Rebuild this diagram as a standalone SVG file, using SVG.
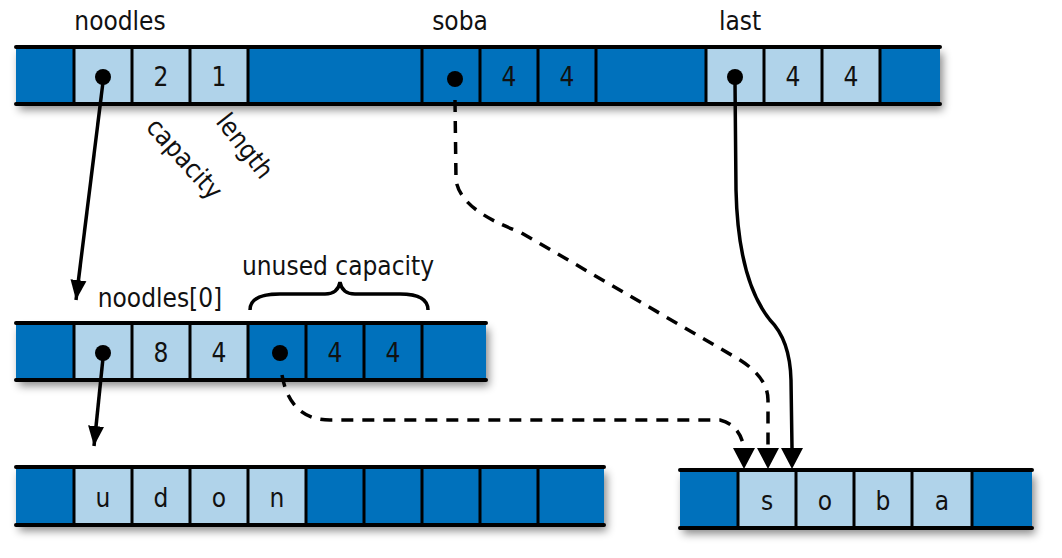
<svg xmlns="http://www.w3.org/2000/svg" width="1062" height="558" viewBox="0 0 1062 558">
<defs>
<filter id="sh" x="-5%" y="-20%" width="110%" height="160%"><feDropShadow dx="3" dy="6" stdDeviation="4" flood-color="#000" flood-opacity="0.45"/></filter>
<marker id="ar" markerWidth="8" markerHeight="8" refX="4" refY="7" orient="auto" markerUnits="userSpaceOnUse" viewBox="0 0 8 8"><path d="M0,0 L8,0 4,8z" fill="#000"/></marker>
<marker id="ah" viewBox="0 0 20 20" refX="20" refY="10" markerWidth="20" markerHeight="20" orient="auto" markerUnits="userSpaceOnUse"><path d="M0,2 L20,10 0,18z" fill="#000"/></marker>
</defs>
<style>
.d{fill:#0071bc}.l{fill:#b0d3ea}
.hl{stroke:#000;stroke-width:4;stroke-linecap:round}
.v{stroke:#000;stroke-width:3}
text{font-family:"Liberation Sans Narrow","DejaVu Sans Condensed","Liberation Sans",sans-serif;font-size:26px;fill:#111}
.c{text-anchor:middle}
.dot{fill:#000}
.w{fill:none;stroke:#000;stroke-width:3.5}
.ds{stroke-dasharray:12 9}
</style>
<g id="row1">
<g filter="url(#sh)"><rect class="d" x="16" y="47" width="924" height="57"/></g>
<rect class="l" x="74" y="47" width="174" height="57"/>
<rect class="l" x="706" y="47" width="174" height="57"/>
<path class="v" d="M74 47V104M132 47V104M190 47V104M248 47V104M422 47V104M480 47V104M538 47V104M596 47V104M706 47V104M764 47V104M822 47V104M880 47V104"/>
<path class="hl" d="M16 47H940M16 104H940"/>
<circle class="dot" cx="103" cy="77" r="8"/><text class="c" x="161" y="86">2</text><text class="c" x="219" y="86">1</text>
<circle class="dot" cx="455" cy="79" r="8"/><text class="c" x="509" y="86">4</text><text class="c" x="567" y="86">4</text>
<circle class="dot" cx="735" cy="77" r="8"/><text class="c" x="793" y="86">4</text><text class="c" x="851" y="86">4</text>
</g>
<g id="row2">
<g filter="url(#sh)"><rect class="d" x="16" y="323" width="470" height="57"/></g>
<rect class="l" x="74" y="323" width="174" height="57"/>
<path class="v" d="M74 323V380M132 323V380M190 323V380M248 323V380M306 323V380M364 323V380M422 323V380"/>
<path class="hl" d="M16 323H486M16 380H486"/>
<circle class="dot" cx="103" cy="353" r="8"/><text class="c" x="161" y="362">8</text><text class="c" x="219" y="362">4</text>
<circle class="dot" cx="280" cy="353" r="8"/><text class="c" x="335" y="362">4</text><text class="c" x="393" y="362">4</text>
</g>
<g id="row3">
<g filter="url(#sh)"><rect class="d" x="16" y="467" width="588" height="58"/></g>
<rect class="l" x="74" y="467" width="232" height="58"/>
<path class="v" d="M74 467V525M132 467V525M190 467V525M248 467V525M306 467V525M364 467V525M422 467V525M480 467V525M538 467V525"/>
<path class="hl" d="M16 467H604M16 525H604"/>
<text class="c" x="103" y="507">u</text><text class="c" x="161" y="507">d</text><text class="c" x="219" y="507">o</text><text class="c" x="277" y="507">n</text>
</g>
<g id="row4">
<g filter="url(#sh)"><rect class="d" x="680" y="470" width="352" height="58"/></g>
<rect class="l" x="738" y="470" width="234" height="58"/>
<path class="v" d="M738 470V528M796 470V528M854 470V528M912 470V528M972 470V528"/>
<path class="hl" d="M680 470H1032M680 528H1032"/>
<text class="c" x="767" y="510">s</text><text class="c" x="825" y="510">o</text><text class="c" x="883" y="510">b</text><text class="c" x="942" y="510">a</text>
</g>
<g id="labels">
<text class="c" x="120" y="30">noodles</text>
<text class="c" x="460" y="30">soba</text>
<text class="c" x="740" y="30">last</text>
<text class="c" x="160" y="307">noodles[0]</text>
<text class="c" x="338" y="275">unused capacity</text>
<text transform="translate(145,128) rotate(48)">capacity</text>
<text transform="translate(215,122) rotate(52)">length</text>
<path class="w" stroke-width="3" d="M250 310 Q250 294 280 294 L325 294 Q338 294 340 282 Q342 294 355 294 L400 294 Q428 294 428 310"/>
</g>
<g id="connectors">
<path class="w" d="M103 82 L76 300" marker-end="url(#ah)"/>
<path class="w" d="M103 358 L94 446" marker-end="url(#ah)"/>
<path class="w ds" d="M455 100 L456 180 Q460 210 520 232 L740 360 Q768 378 768 400 L768 448"/>
<path class="w" d="M735 82 L736 190 Q738 280 770 320 Q790 340 791 380 L792 448"/>
<path class="w ds" d="M282 375 Q290 420 330 420 L720 420 Q740 425 744 448"/>
<path d="M733 448H755L744 469zM757 448H779L768 469zM781 448H803L792 469z" fill="#000"/>
</g>
</svg>
